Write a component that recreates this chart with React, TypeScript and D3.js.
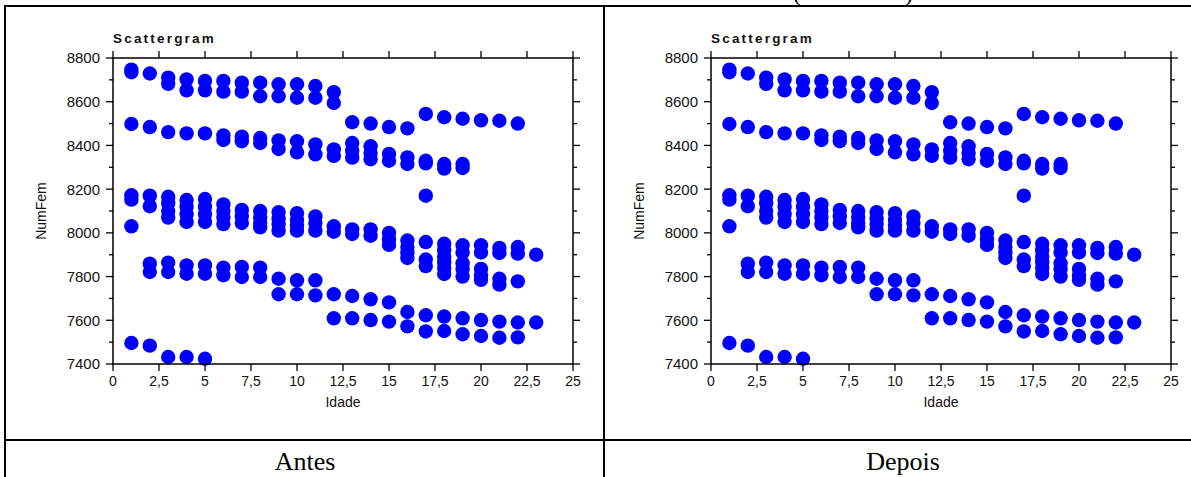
import React from 'react';
import * as d3 from 'd3';

// ---- data ----
const ages: number[] = [1, 2, 3, 4, 5, 6, 7, 8, 9, 10, 11, 12, 13, 14, 15, 16, 17, 18, 19, 20, 21, 22, 23];

const numFemByAge: number[][] = [
  [8747, 8735, 8498, 8172, 8152, 8030, 7496],
  [8729, 8484, 8170, 8122, 7859, 7821, 7484],
  [8710, 8682, 8461, 8165, 8135, 8100, 8070, 7864, 7821, 7432],
  [8702, 8652, 8455, 8150, 8120, 8085, 8050, 7851, 7813, 7432],
  [8695, 8652, 8455, 8155, 8120, 8085, 8050, 7851, 7813, 7424],
  [8695, 8646, 8446, 8425, 8130, 8100, 8070, 8040, 7841, 7806],
  [8687, 8646, 8440, 8419, 8105, 8075, 8045, 7844, 7798],
  [8687, 8625, 8434, 8411, 8100, 8070, 8045, 8025, 7841, 7798],
  [8680, 8625, 8423, 8384, 8095, 8065, 8040, 8010, 7790, 7719],
  [8680, 8618, 8419, 8368, 8090, 8060, 8035, 8010, 7783, 7719],
  [8672, 8618, 8405, 8359, 8075, 8045, 8010, 7783, 7714],
  [8644, 8594, 8382, 8352, 8030, 8005, 7719, 7609],
  [8506, 8411, 8376, 8344, 8016, 7995, 7711, 7609],
  [8500, 8396, 8365, 8337, 8016, 7987, 7696, 7601],
  [8484, 8361, 8330, 8000, 7970, 7945, 7682, 7594],
  [8478, 8345, 8315, 7965, 7935, 7910, 7885, 7638, 7572],
  [8544, 8330, 8318, 8170, 7958, 7878, 7848, 7623, 7549],
  [8529, 8315, 8294, 7950, 7920, 7890, 7865, 7840, 7812, 7617, 7551],
  [8522, 8315, 8297, 7943, 7910, 7860, 7835, 7800, 7609, 7536],
  [8515, 7943, 7910, 7835, 7805, 7785, 7601, 7528],
  [8513, 7931, 7908, 7790, 7763, 7594, 7520],
  [8500, 7935, 7905, 7778, 7590, 7522],
  [7900, 7590],
];

const xTicks: number[] = [0, 2.5, 5, 7.5, 10, 12.5, 15, 17.5, 20, 22.5, 25];
const yMajorTicks: number[] = [7400, 7600, 7800, 8000, 8200, 8400, 8600, 8800];
const yMinorTicks: number[] = [7500, 7700, 7900, 8100, 8300, 8500, 8700];
const panelCaptions: string[] = ['Antes', 'Depois'];

const W = 1191;
const H = 477;
const SANS = '"Liberation Sans", Arial, sans-serif';
const SERIF = '"Liberation Serif", "Times New Roman", serif';

const points = ages.flatMap((a, i) => numFemByAge[i].map((v) => ({ x: a, y: v })));

function Panel({ dx, caption }: { dx: number; caption: string }) {
  const x = d3.scaleLinear().domain([0, 25]).range([113 + dx, 573 + dx]);
  const y = d3.scaleLinear().domain([7400, 8800]).range([364, 58]);
  const [x0, x1] = x.range();
  const [y0, y1] = y.range();
  const fmt = (v: number) => String(v).replace('.', ',');
  const cellMid = dx + 305;
  return (
    <g>
      <text x={x0} y={43} fontFamily={SANS} fontWeight="bold" fontSize={13.5} letterSpacing={2.2} fill="#111">
        Scattergram
      </text>
      {points.map((p, i) => (
        <circle key={i} cx={x(p.x)} cy={y(p.y)} r={7.2} fill="#0000FF" />
      ))}
      <rect x={x0} y={y1} width={x1 - x0} height={y0 - y1} fill="none" stroke="#000" strokeWidth={1.5} />
      {xTicks.map((t) => (
        <g key={'x' + t}>
          <line x1={x(t)} x2={x(t)} y1={y0} y2={y0 + 7} stroke="#000" strokeWidth={1.3} />
          <line x1={x(t)} x2={x(t)} y1={y1} y2={y1 - 7} stroke="#000" strokeWidth={1.3} />
          <text x={x(t)} y={y0 + 22} textAnchor="middle" fontFamily={SANS} fontSize={14} fill="#111">
            {fmt(t)}
          </text>
        </g>
      ))}
      {yMajorTicks.map((t) => (
        <g key={'y' + t}>
          <line x1={x0 - 7} x2={x0} y1={y(t)} y2={y(t)} stroke="#000" strokeWidth={1.3} />
          <line x1={x1} x2={x1 + 7} y1={y(t)} y2={y(t)} stroke="#000" strokeWidth={1.3} />
          <text x={x0 - 13} y={y(t)} dy="0.36em" textAnchor="end" fontFamily={SANS} fontSize={15} fill="#111">
            {t}
          </text>
        </g>
      ))}
      {yMinorTicks.map((t) => (
        <g key={'m' + t}>
          <line x1={x0 - 4} x2={x0} y1={y(t)} y2={y(t)} stroke="#000" strokeWidth={1.3} />
          <line x1={x1} x2={x1 + 4} y1={y(t)} y2={y(t)} stroke="#000" strokeWidth={1.3} />
        </g>
      ))}
      <text
        transform={`translate(${x0 - 67},${(y0 + y1) / 2}) rotate(-90)`}
        textAnchor="middle"
        fontFamily={SANS}
        fontSize={14}
        fill="#111"
      >
        NumFem
      </text>
      <text x={(x0 + x1) / 2} y={y0 + 43} textAnchor="middle" fontFamily={SANS} fontSize={14} fill="#111">
        Idade
      </text>
      <text x={cellMid} y={470} textAnchor="middle" fontFamily={SERIF} fontSize={26} fill="#000">
        {caption}
      </text>
    </g>
  );
}

export default function App() {
  return (
    <svg
      width={W}
      height={H}
      viewBox={`0 0 ${W} ${H}`}
      style={{ position: 'absolute', left: 0, top: 0, background: '#fff' }}
    >
      <rect x={0} y={0} width={W} height={H} fill="#fff" />
      <text x={793} y={1} fontFamily={SERIF} fontSize={24} fill="#000">(</text>
      <text x={905} y={1} fontFamily={SERIF} fontSize={24} fill="#000">)</text>
      <line x1={5} x2={W} y1={6} y2={6} stroke="#000" strokeWidth={2} />
      <line x1={5} x2={5} y1={5} y2={H} stroke="#000" strokeWidth={2} />
      <line x1={604} x2={604} y1={5} y2={H} stroke="#000" strokeWidth={2} />
      <line x1={5} x2={W} y1={440} y2={440} stroke="#000" strokeWidth={2} />
      {panelCaptions.map((c, i) => (
        <Panel key={c} dx={i * 598} caption={c} />
      ))}
    </svg>
  );
}
